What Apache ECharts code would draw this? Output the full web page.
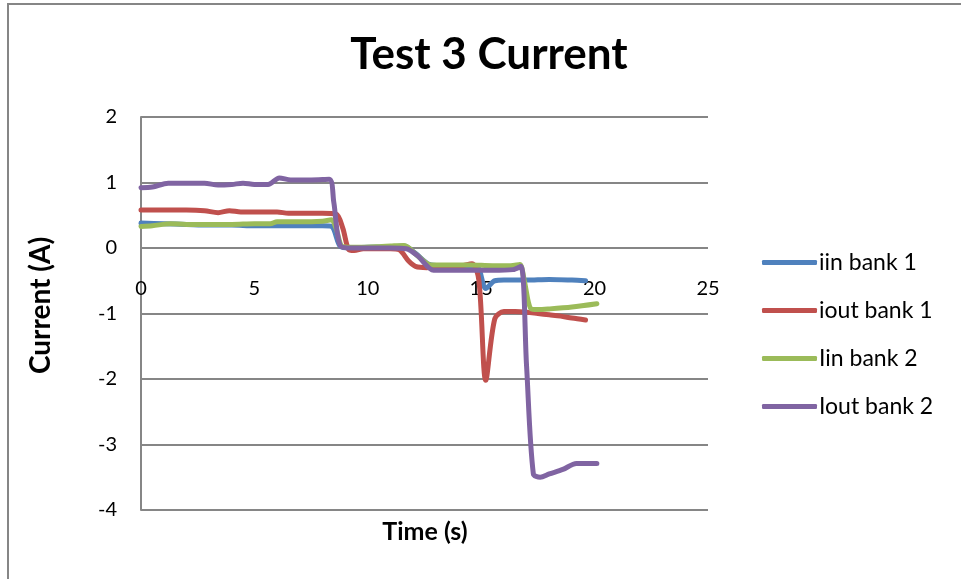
<!DOCTYPE html>
<html>
<head>
<meta charset="utf-8">
<script src="https://cdn.jsdelivr.net/npm/echarts@6/dist/echarts.min.js"></script>
<style>
html,body{margin:0;padding:0;background:#fff;}
#chart{width:961px;height:579px;}
</style>
</head>
<body>
<div id="chart"></div>
<script>
// Data (time in s, current in A)
const seriesNames = ['iin bank 1', 'iout bank 1', 'Iin bank 2', 'Iout bank 2'];
const xTicks = [0, 5, 10, 15, 20, 25];
const yTicks = [-4, -3, -2, -1, 0, 1, 2];

const iinBank1 = [[0,0.38],[1,0.37],[2,0.36],[3,0.35],[4,0.35],[5,0.34],[6,0.34],[7,0.34],[8,0.34],[8.4,0.33],[8.8,0.02],[9.2,0.0],[10,0.01],[11,0.02],[11.6,0.03],[12.1,-0.08],[12.7,-0.25],[13.2,-0.27],[14,-0.27],[14.8,-0.28],[15.2,-0.62],[15.6,-0.5],[16,-0.49],[17,-0.49],[18,-0.48],[19,-0.49],[19.6,-0.5]];
const ioutBank1 = [[0,0.58],[1,0.58],[2,0.58],[2.8,0.57],[3.4,0.54],[3.9,0.57],[4.4,0.55],[5,0.55],[6,0.55],[6.5,0.53],[7,0.53],[8,0.53],[8.6,0.52],[8.9,0.3],[9.15,-0.02],[9.4,-0.04],[9.8,-0.01],[10.5,-0.01],[11,-0.01],[11.4,-0.03],[11.8,-0.2],[12.1,-0.28],[12.6,-0.3],[13,-0.29],[14,-0.28],[14.6,-0.24],[14.9,-0.5],[15.2,-2.02],[15.6,-1.08],[16,-0.97],[16.5,-0.97],[17,-0.98],[17.5,-1.0],[18,-1.02],[18.5,-1.04],[19,-1.07],[19.6,-1.1]];
const iinBank2 = [[0,0.33],[0.5,0.34],[1.3,0.37],[2,0.36],[3,0.36],[4,0.36],[5,0.37],[5.7,0.37],[6,0.4],[7,0.4],[8,0.41],[8.4,0.43],[8.6,0.3],[8.9,0.02],[9.5,0.01],[10.5,0.02],[11,0.03],[11.6,0.04],[12.2,-0.12],[12.8,-0.26],[13.5,-0.26],[14.5,-0.26],[15.5,-0.27],[16.3,-0.27],[16.7,-0.25],[16.9,-0.5],[17.2,-0.93],[17.5,-0.94],[18,-0.93],[19,-0.9],[20.1,-0.85]];
const ioutBank2 = [[0,0.92],[0.5,0.93],[1.2,0.99],[2,0.99],[2.8,0.99],[3.4,0.96],[4,0.97],[4.5,0.99],[5,0.97],[5.6,0.97],[6.1,1.07],[6.6,1.04],[7.5,1.04],[8.3,1.05],[8.5,0.7],[8.8,0.03],[9.3,0.0],[10,0.0],[11,0.0],[11.7,-0.01],[12.2,-0.12],[12.9,-0.34],[13.5,-0.34],[14.5,-0.34],[15.5,-0.34],[16.4,-0.33],[16.75,-0.28],[17.0,-1.8],[17.3,-3.45],[17.6,-3.5],[18,-3.45],[18.6,-3.38],[19.2,-3.29],[20.1,-3.29]];

const colors = ['#4F81BD', '#C0504D', '#9BBB59', '#8064A2'];
const allData = [iinBank1, ioutBank1, iinBank2, ioutBank2];
const FONT = 'Lato';
const yMin = yTicks[0], yMax = yTicks[yTicks.length-1];
const gridTop = 117, gridHeight = 393;
// place the x axis (and its labels) at current = 0, as in the reference
const zeroOffset = -gridHeight * (0 - yMin) / (yMax - yMin);

const chart = echarts.init(document.getElementById('chart'));
chart.setOption({
  animation: false,
  backgroundColor: '#fff',
  color: colors,
  textStyle: { fontFamily: FONT },
  title: {
    text: 'Test 3 Current',
    left: 484, top: 28, textAlign: 'center',
    textStyle: { fontFamily: FONT, fontSize: 44, fontWeight: 'bold', color: '#000' }
  },
  legend: {
    orient: 'vertical',
    left: 757, top: 246,
    itemWidth: 55, itemHeight: 5, itemGap: 25,
    icon: 'roundRect',
    textStyle: { fontFamily: FONT, fontSize: 23, color: '#000', padding: [0,0,0,-3] },
    data: seriesNames
  },
  grid: { left: 141, top: gridTop, width: 567, height: gridHeight, containLabel: false },
  xAxis: {
    type: 'value', min: xTicks[0], max: xTicks[xTicks.length-1], interval: 5,
    position: 'bottom', offset: zeroOffset,
    axisLine: { show: false, onZero: false },
    axisTick: { show: false },
    splitLine: { show: false },
    axisLabel: { color: '#000', fontSize: 20, fontFamily: FONT, margin: 31 }
  },
  yAxis: {
    type: 'value', min: yMin, max: yMax, interval: 1,
    name: 'Current (A)', nameLocation: 'middle', nameGap: 86,
    nameTextStyle: { fontFamily: FONT, fontSize: 28, fontWeight: 'bold', color: '#000', padding: [0,0,0,16] },
    axisLine: { show: true, onZero: false, lineStyle: { color: '#868686', width: 2 } },
    axisTick: { show: false },
    splitLine: { show: true, lineStyle: { color: '#868686', width: 2 } },
    axisLabel: { color: '#000', fontSize: 20, fontFamily: FONT, margin: 24 }
  },
  graphic: [
    { type: 'rect', shape: { x: 8, y: 4, width: 1000, height: 1000 }, style: { fill: 'none', stroke: '#868686', lineWidth: 2 }, silent: true },
    { type: 'text', x: 425, y: 532, style: { text: 'Time (s)', font: 'bold 25px ' + FONT, fill: '#000', align: 'center', verticalAlign: 'middle' } }
  ],
  series: allData.map((d, i) => ({
    name: seriesNames[i],
    type: 'line',
    data: d,
    showSymbol: false,
    symbol: 'none',
    smooth: 0.3,
    lineStyle: { width: 5, color: colors[i], cap: 'round', join: 'round' },
    z: 2 + i
  }))
});
</script>
</body>
</html>
